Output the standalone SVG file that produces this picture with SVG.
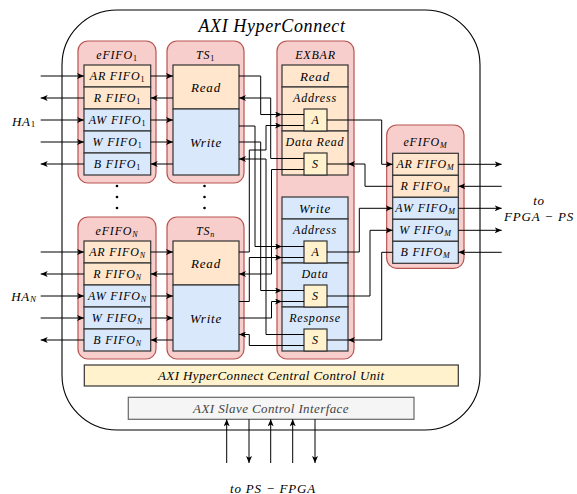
<svg xmlns="http://www.w3.org/2000/svg" width="577" height="494" viewBox="0 0 577 494">
<defs>
<marker id="arr" markerWidth="8" markerHeight="6" refX="7" refY="3" orient="auto" markerUnits="userSpaceOnUse">
<path d="M0,0 L7,3 L0,6 L1.8,3 z" fill="#000"/>
</marker>
<style>
.t{font-family:"Liberation Serif","DejaVu Serif",serif;font-style:italic;font-size:12px;letter-spacing:0.8px;text-anchor:middle;dominant-baseline:central;fill:#000}
.big{font-size:13px}
.s1{font-style:normal}
.ct{fill:#f8cecc;stroke:#b85450;stroke-width:1.2}
.or{fill:#ffe6cc;stroke:#333;stroke-width:1.2}
.bl{fill:#dae8fc;stroke:#333;stroke-width:1.2}
.ye{fill:#fff2cc;stroke:#333;stroke-width:1.2}
.c path{fill:none;stroke:#000;stroke-width:1}
.c .a{marker-end:url(#arr)}
.dot{fill:#000}
</style>
</defs>
<rect width="577" height="494" fill="#fff"/>
<g id="hyperconnect">
<rect x="62" y="10" width="418" height="420" rx="55" fill="#fff" stroke="#000" stroke-width="1.1"/>
<text class="t" x="272" y="26" style="font-size:18px;letter-spacing:0.6px">AXI HyperConnect</text>
</g>
<g id="efifo1">
<rect class="ct" x="78" y="41" width="78" height="142" rx="10"/>
<text class="t" x="117" y="55">eFIFO<tspan class="s1" font-size="8" dy="3">1</tspan></text>
<rect class="or" x="84" y="65" width="66.7" height="22"/>
<rect class="or" x="84" y="87" width="66.7" height="22"/>
<rect class="bl" x="84" y="109" width="66.7" height="22"/>
<rect class="bl" x="84" y="131" width="66.7" height="22"/>
<rect class="bl" x="84" y="153" width="66.7" height="22"/>
<text class="t" x="117.5" y="76">AR FIFO<tspan class="s1" font-size="8" dy="3">1</tspan></text>
<text class="t" x="117.5" y="98">R FIFO<tspan class="s1" font-size="8" dy="3">1</tspan></text>
<text class="t" x="117.5" y="120">AW FIFO<tspan class="s1" font-size="8" dy="3">1</tspan></text>
<text class="t" x="117.5" y="142">W FIFO<tspan class="s1" font-size="8" dy="3">1</tspan></text>
<text class="t" x="117.5" y="164">B FIFO<tspan class="s1" font-size="8" dy="3">1</tspan></text>
</g>
<g id="ts1">
<rect class="ct" x="167" y="41" width="77" height="142" rx="10"/>
<text class="t" x="205.5" y="55">TS<tspan class="s1" font-size="8" dy="3">1</tspan></text>
<rect class="or" x="173" y="65" width="66" height="44"/>
<rect class="bl" x="173" y="109" width="66" height="66"/>
<text class="t big" x="206" y="87">Read</text>
<text class="t big" x="206" y="142">Write</text>
</g>
<g id="dots">
<circle class="dot" cx="117" cy="186" r="1.3"/><circle class="dot" cx="117" cy="197" r="1.3"/><circle class="dot" cx="117" cy="208" r="1.3"/>
<circle class="dot" cx="204.5" cy="186" r="1.3"/><circle class="dot" cx="204.5" cy="197" r="1.3"/><circle class="dot" cx="204.5" cy="208" r="1.3"/>
</g>
<g id="efifoN">
<rect class="ct" x="78" y="217" width="78" height="142" rx="10"/>
<text class="t" x="117" y="231">eFIFO<tspan font-size="8" dy="3">N</tspan></text>
<rect class="or" x="84" y="241" width="66.7" height="22"/>
<rect class="or" x="84" y="263" width="66.7" height="22"/>
<rect class="bl" x="84" y="285" width="66.7" height="22"/>
<rect class="bl" x="84" y="307" width="66.7" height="22"/>
<rect class="bl" x="84" y="329" width="66.7" height="22"/>
<text class="t" x="117.5" y="252">AR FIFO<tspan font-size="8" dy="3">N</tspan></text>
<text class="t" x="117.5" y="274">R FIFO<tspan font-size="8" dy="3">N</tspan></text>
<text class="t" x="117.5" y="296">AW FIFO<tspan font-size="8" dy="3">N</tspan></text>
<text class="t" x="117.5" y="318">W FIFO<tspan font-size="8" dy="3">N</tspan></text>
<text class="t" x="117.5" y="340">B FIFO<tspan font-size="8" dy="3">N</tspan></text>
</g>
<g id="tsn">
<rect class="ct" x="167" y="217" width="77" height="142" rx="10"/>
<text class="t" x="205.5" y="231">TS<tspan font-size="8" dy="3">n</tspan></text>
<rect class="or" x="173" y="241" width="66" height="44"/>
<rect class="bl" x="173" y="285" width="66" height="66"/>
<text class="t big" x="206" y="263">Read</text>
<text class="t big" x="206" y="318">Write</text>
</g>
<g id="exbar">
<rect class="ct" x="277" y="41" width="77" height="318" rx="10"/>
<text class="t" x="315.5" y="55">EXBAR</text>
<rect class="or" x="282" y="65" width="66" height="22"/>
<rect class="or" x="282" y="87" width="66" height="44"/>
<rect class="or" x="282" y="131" width="66" height="44"/>
<rect class="bl" x="282" y="197" width="66" height="22"/>
<rect class="bl" x="282" y="219" width="66" height="44"/>
<rect class="bl" x="282" y="263" width="66" height="44"/>
<rect class="bl" x="282" y="307" width="66" height="44"/>
<text class="t big" x="315" y="76">Read</text>
<text class="t" x="315" y="98">Address</text>
<text class="t" x="315" y="142">Data Read</text>
<text class="t big" x="315" y="208">Write</text>
<text class="t" x="315" y="230">Address</text>
<text class="t" x="315" y="274">Data</text>
<text class="t" x="315" y="318">Response</text>
<rect class="ye" x="304" y="109" width="23" height="22"/>
<rect class="ye" x="304" y="153" width="23" height="22"/>
<rect class="ye" x="304" y="241" width="23" height="22"/>
<rect class="ye" x="304" y="285" width="23" height="22"/>
<rect class="ye" x="304" y="329" width="23" height="22"/>
<text class="t" x="315.5" y="120">A</text>
<text class="t" x="315.5" y="164">S</text>
<text class="t" x="315.5" y="252">A</text>
<text class="t" x="315.5" y="296">S</text>
<text class="t" x="315.5" y="340">S</text>
</g>
<g id="efifoM">
<rect class="ct" x="386.7" y="125" width="77.3" height="143.3" rx="10"/>
<text class="t" x="425.5" y="142">eFIFO<tspan font-size="8" dy="3">M</tspan></text>
<rect class="or" x="392.7" y="153.3" width="65.6" height="22"/>
<rect class="or" x="392.7" y="175.3" width="65.6" height="22"/>
<rect class="bl" x="392.7" y="197.3" width="65.6" height="22"/>
<rect class="bl" x="392.7" y="219.3" width="65.6" height="22"/>
<rect class="bl" x="392.7" y="241.3" width="65.6" height="22"/>
<text class="t" x="425.5" y="164.3">AR FIFO<tspan font-size="8" dy="3">M</tspan></text>
<text class="t" x="425.5" y="186.3">R FIFO<tspan font-size="8" dy="3">M</tspan></text>
<text class="t" x="425.5" y="208.3">AW FIFO<tspan font-size="8" dy="3">M</tspan></text>
<text class="t" x="425.5" y="230.3">W FIFO<tspan font-size="8" dy="3">M</tspan></text>
<text class="t" x="425.5" y="252.3">B FIFO<tspan font-size="8" dy="3">M</tspan></text>
</g>
<g id="ccu">
<rect x="84.3" y="365" width="374" height="21" fill="#fff2cc" stroke="#333" stroke-width="1.2"/>
<text class="t big" x="271.3" y="375.5" style="letter-spacing:0.4px">AXI HyperConnect Central Control Unit</text>
</g>
<g id="slave">
<rect x="128.3" y="397.3" width="285.7" height="22" fill="#f5f5f5" stroke="#666" stroke-width="1.2"/>
<text class="t big" x="271" y="408.3" style="fill:#444;letter-spacing:0.4px">AXI Slave Control Interface</text>
</g>
<g id="labels">
<text class="t big" x="24" y="121">HA<tspan class="s1" font-size="9" dy="3">1</tspan></text>
<text class="t big" x="24" y="296">HA<tspan font-size="9" dy="3">N</tspan></text>
<text class="t big" x="539" y="200">to</text>
<text class="t big" x="539" y="216">FPGA − PS</text>
<text class="t big" x="273" y="488">to PS − FPGA</text>
</g>
<g id="connectors" class="c">
<path class="a" d="M40.7,76 H84"/>
<path class="a" d="M84,98 H40.7"/>
<path class="a" d="M40.7,120 H84"/>
<path class="a" d="M40.7,142 H84"/>
<path class="a" d="M84,164 H40.7"/>
<path class="a" d="M40.7,252 H84"/>
<path class="a" d="M84,274 H40.7"/>
<path class="a" d="M40.7,296 H84"/>
<path class="a" d="M40.7,318 H84"/>
<path class="a" d="M84,340 H40.7"/>
<path class="a" d="M150.7,76 H173"/>
<path class="a" d="M173,98 H150.7"/>
<path class="a" d="M150.7,120 H173"/>
<path class="a" d="M150.7,142 H173"/>
<path class="a" d="M173,164 H150.7"/>
<path class="a" d="M150.7,252 H173"/>
<path class="a" d="M173,274 H150.7"/>
<path class="a" d="M150.7,296 H173"/>
<path class="a" d="M150.7,318 H173"/>
<path class="a" d="M173,340 H150.7"/>
<path class="a" d="M239,76 H260.7 V114.5 H282"/>
<path d="M282,114.5 H304"/>
<path class="a" d="M304,158.5 H270.7 V98 H239"/>
<path class="a" d="M239,126 H255 V246.5 H282"/>
<path d="M282,246.5 H304"/>
<path class="a" d="M239,142 H260.7 V290.5 H282"/>
<path d="M282,290.5 H304"/>
<path class="a" d="M304,334.5 H266 V159 H239"/>
<path class="a" d="M239,252 H249.3 V150 H266 V125.5 H282"/>
<path d="M282,125.5 H304"/>
<path class="a" d="M304,169.5 H271.5 V274 H239"/>
<path class="a" d="M239,301.5 H249.3 V257.5 H282"/>
<path d="M282,257.5 H304"/>
<path class="a" d="M239,318 H271.5 V301.5 H282"/>
<path d="M282,301.5 H304"/>
<path class="a" d="M304,345.5 H249.3 V334.5 H239"/>
<path class="a" d="M327,120 H381.7 V164.3 H392.7"/>
<path class="a" d="M392.7,186.3 H365 V164 H348"/>
<path d="M348,164 H327"/>
<path class="a" d="M327,252 H359.3 V208.3 H392.7"/>
<path class="a" d="M327,296 H370 V230.3 H392.7"/>
<path class="a" d="M392.7,252.3 H381.7 V340 H348"/>
<path d="M348,340 H327"/>
<path class="a" d="M458.3,164.3 H501.7"/>
<path class="a" d="M501.7,186.3 H458.3"/>
<path class="a" d="M458.3,208.3 H501.7"/>
<path class="a" d="M458.3,230.3 H501.7"/>
<path class="a" d="M501.7,252.3 H458.3"/>
<path class="a" d="M226.7,463 V419.3"/>
<path class="a" d="M249,419.3 V463"/>
<path class="a" d="M270.7,463 V419.3"/>
<path class="a" d="M292.7,463 V419.3"/>
<path class="a" d="M315,419.3 V463"/>
</g>
</svg>
